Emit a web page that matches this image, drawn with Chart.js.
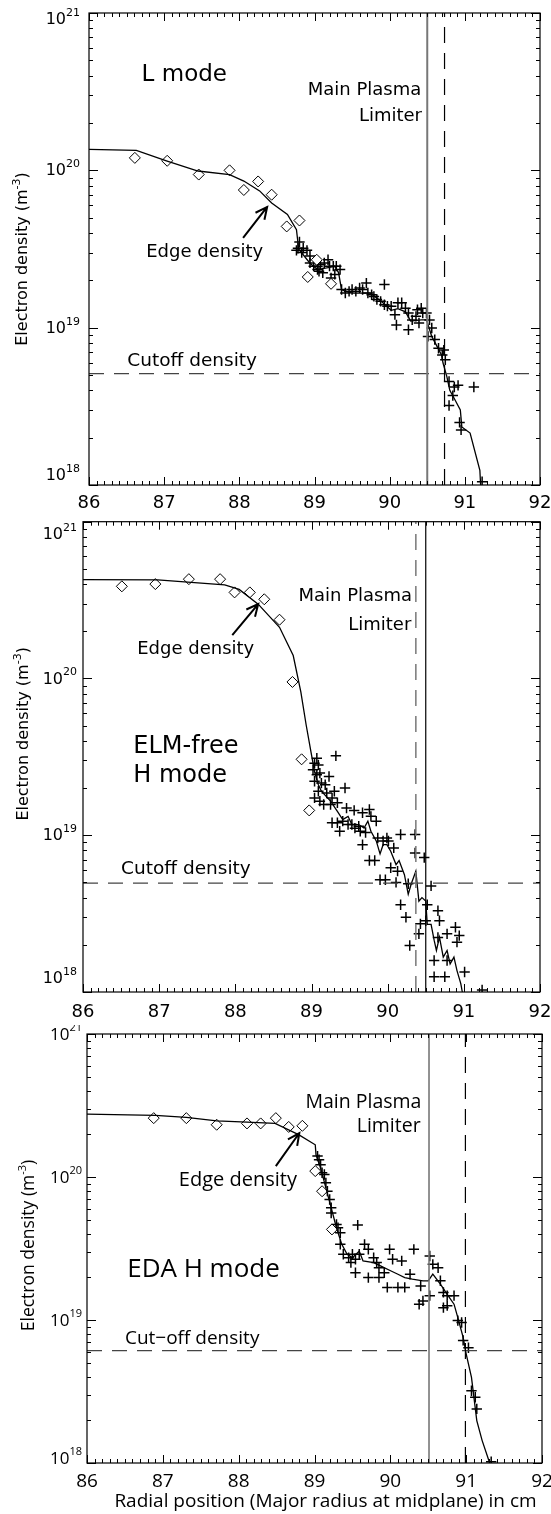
<!DOCTYPE html>
<html>
<head>
<meta charset="utf-8">
<script src="https://cdn.jsdelivr.net/npm/chart.js@4.4.0/dist/chart.umd.min.js"></script>
<style>
  body { margin: 0; background: #fff; width: 551px; height: 1514px; position: relative; overflow: hidden; }
  canvas { position: absolute; left: 0; }
</style>
</head>
<body>
<canvas id="lmode" width="551" height="515" style="top:0px"></canvas>
<canvas id="elmfree" width="551" height="510" style="top:515px"></canvas>
<canvas id="eda" width="551" height="489" style="top:1025px"></canvas>
<script>
// Axis ticks shared by all three panels
const xTickValues = [86, 87, 88, 89, 90, 91, 92];
const yDecades = [18, 19, 20, 21];

// ---- L mode ----
const lProfileX = [86.0, 86.63, 87.03, 87.45, 87.87, 88.06, 88.27, 88.43, 88.64, 88.76, 88.79, 88.94, 89.04, 89.27, 89.32, 89.36, 89.50, 89.74, 89.88, 90.02, 90.11, 90.21, 90.28, 90.42, 90.49, 90.56, 90.63, 90.69, 90.71, 90.76, 90.80, 90.87, 90.94, 90.96, 91.07, 91.20, 91.21];
const lProfileY = [1.36e20, 1.34e20, 1.15e20, 9.9e19, 9.4e19, 8.55e19, 7.4e19, 6.2e19, 5.25e19, 4.2e19, 3.15e19, 2.57e19, 2.34e19, 2.45e19, 2.24e19, 1.74e19, 1.66e19, 1.66e19, 1.48e19, 1.29e19, 1.32e19, 1.26e19, 1.10e19, 1.12e19, 1.12e19, 8.8e18, 7.6e18, 6.7e18, 5.96e18, 4.9e18, 4.0e18, 3.47e18, 3.0e18, 2.34e18, 2.14e18, 1.24e18, 1.0e18];
const lDiamondX = [86.61, 87.04, 87.46, 87.87, 88.06, 88.25, 88.43, 88.63, 88.80, 89.03, 88.91, 89.22];
const lDiamondY = [1.2e20, 1.15e20, 9.4e19, 1.0e20, 7.5e19, 8.5e19, 7.0e19, 4.4e19, 4.8e19, 2.7e19, 2.1e19, 1.9e19];
const lPlusX = [88.80, 88.78, 88.85, 88.76, 88.90, 88.83, 88.94, 88.94, 88.99, 89.04, 89.08, 89.13, 89.18, 89.20, 89.25, 89.29, 89.34, 89.06, 89.11, 89.04, 89.27, 89.22, 89.36, 89.41, 89.46, 89.50, 89.55, 89.60, 89.64, 89.69, 89.71, 89.76, 89.79, 89.93, 89.83, 89.88, 89.93, 89.97, 90.02, 90.07, 90.11, 90.16, 90.21, 90.25, 90.30, 90.35, 90.37, 90.42, 90.44, 90.39, 90.49, 90.53, 90.51, 90.56, 90.25, 90.09, 90.60, 90.65, 90.70, 90.72, 90.74, 90.79, 90.86, 90.91, 91.12, 90.84, 90.79, 90.93, 90.95, 91.23];
const lPlusY = [3.5e19, 3.2e19, 3.2e19, 3.1e19, 3.1e19, 3.0e19, 2.85e19, 2.58e19, 2.46e19, 2.46e19, 2.52e19, 2.58e19, 2.7e19, 2.46e19, 2.46e19, 2.46e19, 2.34e19, 2.28e19, 2.23e19, 2.34e19, 2.18e19, 2.07e19, 1.75e19, 1.66e19, 1.70e19, 1.75e19, 1.70e19, 1.79e19, 1.75e19, 1.92e19, 1.66e19, 1.62e19, 1.58e19, 1.88e19, 1.51e19, 1.47e19, 1.40e19, 1.37e19, 1.37e19, 1.21e19, 1.44e19, 1.44e19, 1.33e19, 1.24e19, 1.12e19, 1.18e19, 1.30e19, 1.33e19, 1.24e19, 1.07e19, 1.24e19, 1.12e19, 8.8e18, 9.95e18, 9.7e18, 1.04e19, 8.4e18, 7.4e18, 6.7e18, 7.2e18, 6.25e18, 4.55e18, 4.2e18, 4.3e18, 4.2e18, 3.7e18, 3.2e18, 2.5e18, 2.24e18, 1.05e18];
const lLimiter = 90.50, lMainPlasma = 90.73, lCutoff = 5.1e18;

// ---- ELM-free H mode ----
const eProfileX = [86.0, 86.98, 87.86, 88.05, 88.30, 88.58, 88.76, 88.86, 88.93, 89.0, 89.04, 89.09, 89.13, 89.25, 89.34, 89.41, 89.48, 89.53, 89.62, 89.69, 89.74, 89.78, 89.85, 89.90, 89.94, 89.99, 90.04, 90.11, 90.15, 90.22, 90.27, 90.31, 90.37, 90.41, 90.45, 90.50, 90.52, 90.57, 90.61, 90.64, 90.68, 90.73, 90.78, 90.82, 90.87, 90.91, 90.96, 90.98];
const eProfileY = [4.27e20, 4.25e20, 3.96e20, 3.7e20, 2.98e20, 2.12e20, 1.40e20, 8.2e19, 5.05e19, 3.26e19, 2.55e19, 2.1e19, 1.91e19, 1.65e19, 1.42e19, 1.26e19, 1.32e19, 1.17e19, 1.17e19, 1.11e19, 1.23e19, 1.06e19, 9.2e18, 7.6e18, 8.7e18, 8.7e18, 7.9e18, 6.5e18, 6.9e18, 5.6e18, 4.2e18, 4.9e18, 5.9e18, 3.8e18, 4.0e18, 3.8e18, 2.7e18, 2.7e18, 2.14e18, 1.84e18, 2.24e18, 1.67e18, 1.84e18, 1.51e18, 1.67e18, 1.37e18, 1.13e18, 1.0e18];
const eDiamondX = [86.51, 86.95, 87.39, 87.80, 87.99, 88.19, 88.38, 88.58, 88.75, 88.87, 88.97];
const eDiamondY = [3.87e20, 4.0e20, 4.3e20, 4.3e20, 3.54e20, 3.54e20, 3.2e20, 2.37e20, 9.5e19, 3.05e19, 1.44e19];
const ePlusX = [89.07, 89.04, 89.09, 89.02, 89.07, 89.11, 89.23, 89.04, 89.13, 89.18, 89.32, 89.44, 89.09, 89.20, 89.30, 89.27, 89.04, 89.11, 89.16, 89.25, 89.34, 89.46, 89.56, 89.67, 89.76, 89.78, 89.85, 89.27, 89.34, 89.41, 89.48, 89.53, 89.37, 89.57, 89.62, 89.64, 89.71, 89.67, 89.87, 89.94, 89.99, 90.01, 90.08, 90.17, 90.36, 89.76, 89.83, 90.04, 90.13, 89.90, 89.97, 90.11, 90.27, 90.36, 90.48, 90.57, 90.17, 90.24, 90.29, 90.41, 90.43, 90.50, 90.52, 90.66, 90.68, 90.66, 90.78, 90.89, 90.94, 90.91, 90.61, 90.78, 90.61, 90.75, 91.01, 91.24];
const ePlusY = [3.10e19, 2.88e19, 2.81e19, 2.62e19, 2.43e19, 2.49e19, 2.37e19, 2.21e19, 2.15e19, 2.10e19, 3.21e19, 2.0e19, 1.91e19, 1.86e19, 1.91e19, 1.73e19, 1.73e19, 1.65e19, 1.57e19, 1.57e19, 1.61e19, 1.49e19, 1.44e19, 1.39e19, 1.46e19, 1.32e19, 1.23e19, 1.20e19, 1.20e19, 1.23e19, 1.17e19, 1.17e19, 1.06e19, 1.11e19, 1.14e19, 1.06e19, 1.04e19, 8.7e18, 9.6e18, 9.2e18, 9.6e18, 9.2e18, 8.3e18, 1.01e19, 1.01e19, 6.9e18, 6.9e18, 6.2e18, 5.9e18, 5.2e18, 5.2e18, 5.0e18, 4.9e18, 7.7e18, 7.2e18, 4.75e18, 3.6e18, 3.0e18, 1.98e18, 2.35e18, 2.72e18, 2.85e18, 3.6e18, 3.3e18, 2.85e18, 2.23e18, 2.35e18, 2.59e18, 2.29e18, 2.08e18, 1.59e18, 1.59e18, 1.25e18, 1.25e18, 1.34e18, 1.03e18];
const eLimiter = 90.50, eMainPlasma = 90.37, eCutoff = 4.95e18;

// ---- EDA H mode ----
const dProfileX = [86.0, 86.90, 87.31, 87.71, 88.11, 88.48, 88.79, 89.01, 89.02, 89.08, 89.15, 89.22, 89.29, 89.36, 89.43, 89.50, 89.59, 89.64, 89.78, 89.87, 90.01, 90.10, 90.19, 90.29, 90.43, 90.50, 90.56, 90.66, 90.75, 90.84, 90.89, 90.96, 91.00, 91.07, 91.14, 91.21, 91.31];
const dProfileY = [2.75e20, 2.70e20, 2.61e20, 2.47e20, 2.42e20, 2.37e20, 1.98e20, 1.68e20, 1.43e20, 1.16e20, 8.4e19, 6.1e19, 4.4e19, 3.38e19, 2.88e19, 2.73e19, 3.03e19, 2.59e19, 2.52e19, 2.39e19, 2.20e19, 2.09e19, 1.98e19, 1.93e19, 1.88e19, 1.88e19, 2.09e19, 1.78e19, 1.51e19, 1.29e19, 1.04e19, 7.55e18, 5.8e18, 3.97e18, 1.98e18, 1.44e18, 1.0e18];
const dDiamondX = [86.88, 87.31, 87.71, 88.11, 88.29, 88.49, 88.66, 88.84, 89.01, 89.10, 89.23];
const dDiamondY = [2.58e20, 2.58e20, 2.32e20, 2.37e20, 2.37e20, 2.58e20, 2.24e20, 2.28e20, 1.10e20, 7.95e19, 4.3e19];
const dPlusX = [89.04, 89.06, 89.08, 89.10, 89.13, 89.15, 89.17, 89.20, 89.22, 89.22, 89.29, 89.31, 89.34, 89.34, 89.57, 89.38, 89.45, 89.48, 89.50, 89.54, 89.59, 89.66, 89.71, 89.78, 89.82, 89.85, 89.99, 90.03, 90.15, 90.31, 89.54, 89.71, 89.85, 89.92, 89.96, 90.10, 90.19, 90.26, 90.40, 90.38, 90.43, 90.52, 90.52, 90.56, 90.63, 90.66, 90.70, 90.75, 90.84, 90.75, 90.70, 90.89, 90.94, 90.96, 91.03, 91.07, 91.12, 91.14, 91.33];
const dPlusY = [1.40e20, 1.32e20, 1.22e20, 1.07e20, 1.04e20, 9.1e19, 7.96e19, 6.96e19, 6.1e19, 5.6e19, 4.66e19, 4.42e19, 4.07e19, 3.38e19, 4.61e19, 2.88e19, 2.73e19, 2.52e19, 2.88e19, 2.66e19, 2.88e19, 3.38e19, 3.12e19, 2.73e19, 2.52e19, 2.32e19, 3.12e19, 2.66e19, 2.59e19, 3.12e19, 2.14e19, 1.98e19, 1.98e19, 2.14e19, 1.69e19, 1.69e19, 1.69e19, 2.09e19, 1.73e19, 1.29e19, 1.36e19, 1.48e19, 2.80e19, 2.45e19, 2.32e19, 1.88e19, 1.56e19, 1.48e19, 1.48e19, 1.26e19, 1.22e19, 9.9e18, 9.6e18, 7.2e18, 6.4e18, 3.2e18, 2.88e18, 2.39e18, 1.02e18];
const dLimiter = 90.51, dMainPlasma = 90.99, dCutoff = 6.1e18;

function zip(xs, ys) {
    return xs.map((x, i) => ({ x: x, y: ys[i] }));
}

// Draws an IDL style box: inward ticks on all four sides, labels, titles, notes
const idlFrame = {
    id: 'idlFrame',
    afterDraw(chart, args, o) {
        const ctx = chart.ctx;
        const a = chart.chartArea;
        const xs = chart.scales.x, ys = chart.scales.y;
        ctx.save();
        ctx.strokeStyle = '#000';
        ctx.lineWidth = 1.2;
        ctx.strokeRect(a.left, a.top, a.right - a.left, a.bottom - a.top);

        ctx.beginPath();
        ctx.lineWidth = 1;
        for (let i = 0; i <= 60; i++) {
            const px = Math.round(xs.getPixelForValue(86 + i / 10)) + 0.5;
            const len = i % 10 === 0 ? 8 : 4;
            ctx.moveTo(px, a.bottom); ctx.lineTo(px, a.bottom - len);
            ctx.moveTo(px, a.top); ctx.lineTo(px, a.top + len);
        }
        for (let e = 18; e <= 20; e++) {
            for (let k = 1; k <= 10; k++) {
                const py = Math.round(ys.getPixelForValue(k * Math.pow(10, e))) + 0.5;
                const len = (k === 1 || k === 10) ? 9 : 4;
                ctx.moveTo(a.left, py); ctx.lineTo(a.left + len, py);
                ctx.moveTo(a.right, py); ctx.lineTo(a.right - len, py);
            }
        }
        ctx.stroke();

        ctx.fillStyle = '#000';
        // x tick labels
        ctx.font = o.xTickSize + 'px "' + o.font + '"';
        ctx.textAlign = 'center';
        ctx.textBaseline = 'middle';
        xTickValues.forEach(v => {
            ctx.fillText(String(v), xs.getPixelForValue(v), a.bottom + o.xLabelGap);
        });

        // y tick labels as 10 with superscript exponent
        yDecades.forEach(e => {
            let py = ys.getPixelForValue(Math.pow(10, e));
            if (e === 21) py += o.topShift;
            if (e === 18) py += o.bottomShift;
            const right = a.left - o.yLabelGap;
            ctx.font = o.supSize + 'px "' + o.font + '"';
            const ws = ctx.measureText(String(e)).width;
            ctx.textAlign = 'left';
            ctx.fillText(String(e), right - ws, py - 6);
            ctx.font = o.tickSize + 'px "' + o.font + '"';
            ctx.textAlign = 'right';
            ctx.fillText('10', right - ws, py + 1);
        });

        // y axis title, rotated, with m^-3
        ctx.save();
        ctx.translate(o.yTitleX, (a.top + a.bottom) / 2 + o.yTitleShift);
        ctx.rotate(-Math.PI / 2);
        const p1 = 'Electron density (m', p2 = '-3', p3 = ')';
        ctx.font = o.titleSize + 'px "' + o.font + '"';
        const w1 = ctx.measureText(p1).width, w3 = ctx.measureText(p3).width;
        ctx.font = o.supSize + 'px "' + o.font + '"';
        const w2 = ctx.measureText(p2).width;
        let cx = -(w1 + w2 + w3) / 2;
        ctx.textAlign = 'left';
        ctx.font = o.titleSize + 'px "' + o.font + '"';
        ctx.fillText(p1, cx, 0);
        ctx.font = o.supSize + 'px "' + o.font + '"';
        ctx.fillText(p2, cx + w1, -6);
        ctx.font = o.titleSize + 'px "' + o.font + '"';
        ctx.fillText(p3, cx + w1 + w2, 0);
        ctx.restore();

        if (o.xTitle) {
            ctx.font = o.xTitleSize + 'px "' + o.font + '"';
            ctx.textAlign = 'center';
            ctx.fillText(o.xTitle, (a.left + a.right) / 2 + 11, a.bottom + o.xTitleGap);
        }

        // notes placed in data coordinates
        o.notes.forEach(n => {
            ctx.font = n.size + 'px "' + o.font + '"';
            ctx.textAlign = n.align;
            ctx.fillText(n.text, xs.getPixelForValue(n.x), ys.getPixelForValue(n.y));
        });

        // arrow pointing at the edge density
        const ax0 = xs.getPixelForValue(o.arrow[0]), ay0 = ys.getPixelForValue(o.arrow[1]);
        const ax1 = xs.getPixelForValue(o.arrow[2]), ay1 = ys.getPixelForValue(o.arrow[3]);
        const ang = Math.atan2(ay1 - ay0, ax1 - ax0);
        ctx.beginPath();
        ctx.lineWidth = 2;
        ctx.moveTo(ax0, ay0); ctx.lineTo(ax1, ay1);
        ctx.moveTo(ax1 - 13 * Math.cos(ang - 0.45), ay1 - 13 * Math.sin(ang - 0.45));
        ctx.lineTo(ax1, ay1);
        ctx.lineTo(ax1 - 13 * Math.cos(ang + 0.45), ay1 - 13 * Math.sin(ang + 0.45));
        ctx.stroke();
        ctx.restore();
    }
};

function makePanel(id, d, o) {
    const datasets = [
        { data: [{ x: d.limiter, y: 1e18 }, { x: d.limiter, y: 1e21 }], showLine: true, pointRadius: 0,
          borderColor: d.limiterColor, borderWidth: d.limiterWidth },
        { data: [{ x: d.mainPlasma, y: 1e18 }, { x: d.mainPlasma, y: 1e21 }], showLine: true, pointRadius: 0,
          borderColor: d.dashColor, borderWidth: d.dashWidth, borderDash: [16, 10] },
        { data: [{ x: 86, y: d.cutoff }, { x: 92, y: d.cutoff }], showLine: true, pointRadius: 0,
          borderColor: '#444', borderWidth: 1.2, borderDash: [15, 10] },
        { data: zip(d.profileX, d.profileY), showLine: true, pointRadius: 0,
          borderColor: '#000', borderWidth: 1.3, tension: 0 },
        { data: zip(d.diamondX, d.diamondY), pointStyle: 'rectRot', pointRadius: 5.5,
          backgroundColor: '#fff', borderColor: '#000', borderWidth: 1 },
        { data: zip(d.plusX, d.plusY), pointStyle: 'cross', pointRadius: 5.2,
          borderColor: '#000', borderWidth: 1.5 }
    ];
    return new Chart(document.getElementById(id), {
        type: 'scatter',
        data: { datasets: datasets },
        options: {
            responsive: false,
            animation: false,
            devicePixelRatio: 1,
            events: [],
            layout: { padding: o.padding },
            scales: {
                x: { type: 'linear', min: 86, max: 92, display: false },
                y: { type: 'logarithmic', min: 1e18, max: 1e21, display: false }
            },
            plugins: { legend: { display: false }, tooltip: { enabled: false }, idlFrame: o }
        },
        plugins: [idlFrame]
    });
}

makePanel('lmode', {
    profileX: lProfileX, profileY: lProfileY, diamondX: lDiamondX, diamondY: lDiamondY,
    plusX: lPlusX, plusY: lPlusY, limiter: lLimiter, mainPlasma: lMainPlasma, cutoff: lCutoff,
    limiterColor: '#777', limiterWidth: 2, dashColor: '#000', dashWidth: 1.2
}, {
    padding: { left: 89, right: 11, top: 13, bottom: 30 },
    font: 'DejaVu Sans', tickSize: 16, xTickSize: 18, supSize: 11, titleSize: 16,
    xLabelGap: 18, yLabelGap: 9, topShift: 6, bottomShift: -10, yTitleX: 23, yTitleShift: 10,
    notes: [
        { text: 'L mode', x: 86.70, y: 4.04e20, size: 23, align: 'left' },
        { text: 'Main Plasma', x: 90.42, y: 3.24e20, size: 18, align: 'right' },
        { text: 'Limiter', x: 90.43, y: 2.21e20, size: 18, align: 'right' },
        { text: 'Edge density', x: 87.54, y: 2.99e19, size: 18, align: 'center' },
        { text: 'Cutoff density', x: 86.51, y: 6.14e18, size: 18.5, align: 'left' }
    ],
    arrow: [88.05, 3.72e19, 88.37, 5.85e19]
});

makePanel('elmfree', {
    profileX: eProfileX, profileY: eProfileY, diamondX: eDiamondX, diamondY: eDiamondY,
    plusX: ePlusX, plusY: ePlusY, limiter: eLimiter, mainPlasma: eMainPlasma, cutoff: eCutoff,
    limiterColor: '#000', limiterWidth: 1.2, dashColor: '#777', dashWidth: 1.5
}, {
    padding: { left: 83, right: 11, top: 4, bottom: 33 },
    font: 'DejaVu Sans', tickSize: 16, xTickSize: 18, supSize: 11, titleSize: 16,
    xLabelGap: 20, yLabelGap: 6, topShift: 12, bottomShift: -14, yTitleX: 24, yTitleShift: -23,
    notes: [
        { text: 'Main Plasma', x: 90.32, y: 3.34e20, size: 18, align: 'right' },
        { text: 'Limiter', x: 90.31, y: 2.19e20, size: 18, align: 'right' },
        { text: 'Edge density', x: 87.48, y: 1.54e20, size: 18, align: 'center' },
        { text: 'ELM-free', x: 86.66, y: 3.69e19, size: 24, align: 'left' },
        { text: 'H mode', x: 86.66, y: 2.38e19, size: 24, align: 'left' },
        { text: 'Cutoff density', x: 86.50, y: 6.03e18, size: 18.5, align: 'left' }
    ],
    arrow: [87.96, 1.89e20, 88.30, 2.98e20]
});

makePanel('eda', {
    profileX: dProfileX, profileY: dProfileY, diamondX: dDiamondX, diamondY: dDiamondY,
    plusX: dPlusX, plusY: dPlusY, limiter: dLimiter, mainPlasma: dMainPlasma, cutoff: dCutoff,
    limiterColor: '#777', limiterWidth: 1.6, dashColor: '#000', dashWidth: 1.2
}, {
    padding: { left: 87, right: 9, top: 9, bottom: 51 },
    font: 'Open Sans', tickSize: 17, xTickSize: 19, supSize: 11, titleSize: 17.5, xTitleSize: 19,
    xLabelGap: 19, yLabelGap: 5, topShift: 0, bottomShift: -5, yTitleX: 29, yTitleShift: -3,
    xTitle: 'Radial position (Major radius at midplane) in cm', xTitleGap: 39,
    notes: [
        { text: 'Main Plasma', x: 90.41, y: 3.34e20, size: 19.5, align: 'right' },
        { text: 'Limiter', x: 90.40, y: 2.24e20, size: 19.5, align: 'right' },
        { text: 'Edge density', x: 87.99, y: 9.5e19, size: 20, align: 'center' },
        { text: 'EDA H mode', x: 86.53, y: 2.24e19, size: 26, align: 'left' },
        { text: 'Cut\u2212off density', x: 86.50, y: 7.36e18, size: 19, align: 'left' }
    ],
    arrow: [88.49, 1.19e20, 88.80, 2.03e20]
});
</script>
</body>
</html>
